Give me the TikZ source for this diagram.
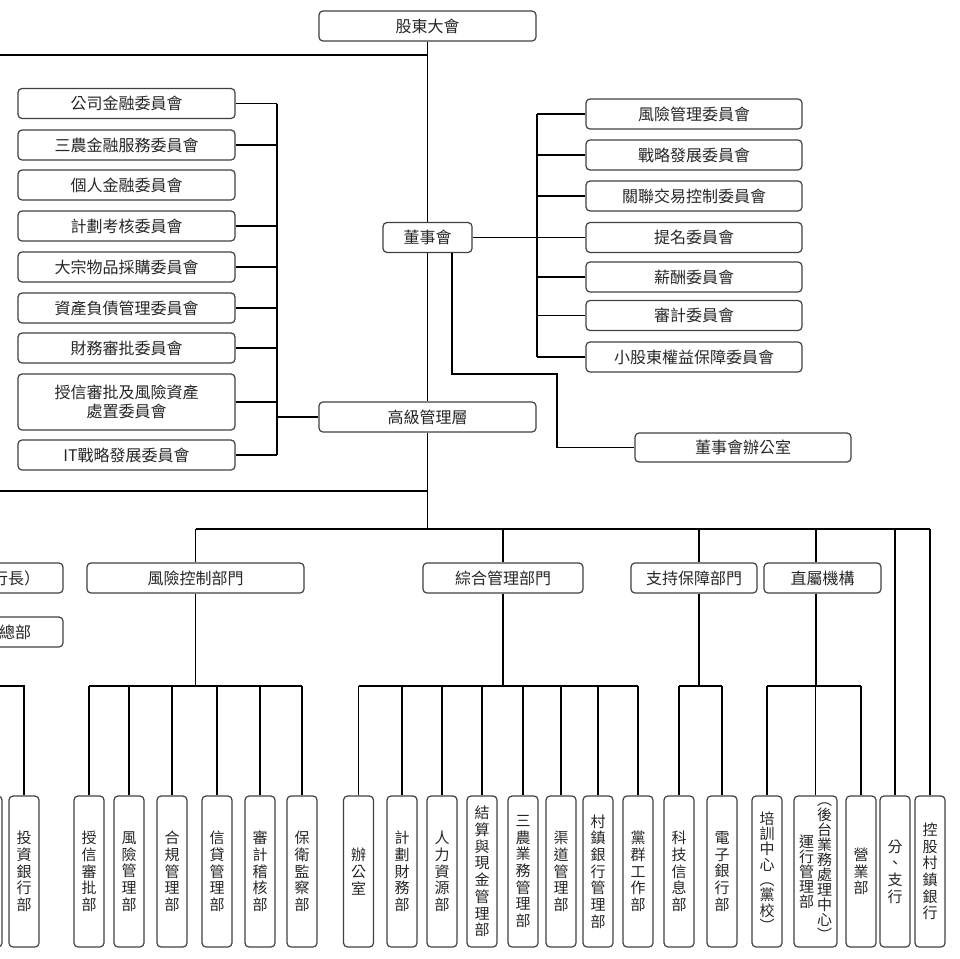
\documentclass[tikz,border=0pt]{standalone}
\usepackage{fontspec}
\setmainfont{Noto Sans CJK TC}
\usetikzlibrary{positioning}

\begin{document}
\begin{tikzpicture}[x=1pt, y=-1pt,
    box/.style={draw=black!75, line width=1.2pt, rounded corners=4pt, minimum height=30pt, inner sep=0pt, align=center, text=black!85, font=\fontsize{16}{19}\selectfont},
    vbox/.style={draw=black!75, line width=1.2pt, rounded corners=4pt, minimum width=30pt, minimum height=151pt, inner sep=0pt, align=center, text=black!85, font=\fontsize{15}{16.7}\selectfont},
    link/.style={line width=1.2pt}]
    \useasboundingbox (0,0) rectangle (960,958);
    \clip (0,0) rectangle (960,958);

    % top
    \node (sh) [box, minimum width=217pt] at (427.5,26) {股東大會};
    \node (bd) [box, minimum width=89pt] at (427.5,237.5) {董事會};
    \node (sm) [box, minimum width=217pt] at (427.5,417) {高級管理層};
    \node (bdo) [box, minimum width=216pt, minimum height=29pt] at (743,447.5) {董事會辦公室};

    % committees under senior management
    \foreach \y/\t [count=\i] in {103.5/公司金融委員會, 145/三農金融服務委員會, 185/個人金融委員會, 226/計劃考核委員會, 267/大宗物品採購委員會, 308/資產負債管理委員會, 348/財務審批委員會}
        \node (lc\i) [box, minimum width=217pt] at (126.5,\y) {\t};
    \node (lc8) [box, minimum width=217pt, minimum height=56pt] at (126.5,402) {授信審批及風險資產\\處置委員會};
    \node (lc9) [box, minimum width=217pt] at (126.5,455) {IT戰略發展委員會};

    % board committees
    \foreach \y/\t [count=\i] in {114/風險管理委員會, 155/戰略發展委員會, 196/關聯交易控制委員會, 237.5/提名委員會, 277/薪酬委員會, 315.5/審計委員會, 357/小股東權益保障委員會}
        \node (rc\i) [box, minimum width=216pt] at (694,\y) {\t};

    % departments
    \node (hz) [box, minimum width=94pt] at (16,578) {行長）};
    \node (zb) [box, minimum width=96pt] at (15,632) {總部};
    \node (rk) [box, minimum width=217pt] at (195.5,578) {風險控制部門};
    \node (zh) [box, minimum width=160pt] at (503,578) {綜合管理部門};
    \node (zc) [box, minimum width=126pt] at (694,578) {支持保障部門};
    \node (zs) [box, minimum width=117pt] at (822.5,578) {直屬機構};

    % bottom row
    \node (xb) [vbox] at (-13,871.5) {};
    \node (ib) [vbox] at (24,871.5) {投\\資\\銀\\行\\部};
    \foreach \x/\t [count=\i] in {89/授\\信\\審\\批\\部, 129/風\\險\\管\\理\\部, 172/合\\規\\管\\理\\部, 217/信\\貸\\管\\理\\部, 260/審\\計\\稽\\核\\部, 302/保\\衛\\監\\察\\部}
        \node (rb\i) [vbox] at (\x,871.5) {\t};
    \foreach \x/\t [count=\i] in {358.5/辦\\公\\室, 402/計\\劃\\財\\務\\部, 442/人\\力\\資\\源\\部, 482/結\\算\\與\\現\\金\\管\\理\\部, 523/三\\農\\業\\務\\管\\理\\部, 561/渠\\道\\管\\理\\部, 598/村\\鎮\\銀\\行\\管\\理\\部, 638/黨\\群\\工\\作\\部}
        \node (gb\i) [vbox] at (\x,871.5) {\t};
    \node (sb1) [vbox] at (679,871.5) {科\\技\\信\\息\\部};
    \node (sb2) [vbox] at (722,871.5) {電\\子\\銀\\行\\部};
    \node (db1) [vbox, font=\fontsize{15}{15.3}\selectfont] at (767,871.5) {培\\訓\\中\\心\\︵\\黨\\校\\︶};
    \node (db2) [vbox, minimum width=43pt, font=\fontsize{15}{15}\selectfont] at (815.5,871.5)
        {\parbox[c]{15pt}{\centering 運\\行\\管\\理\\部}\hspace{3pt}\parbox[c]{15pt}{\centering ︵\\後\\台\\業\\務\\處\\理\\中\\心\\︶}};
    \node (db3) [vbox] at (861,871.5) {營\\業\\部};
    \node (fz) [vbox] at (895,871.5) {分\\、\\支\\行};
    \node (kg) [vbox] at (930,871.5) {控\\股\\村\\鎮\\銀\\行};

    % connectors, top part
    \draw[link] (sh.south) -- (bd.north);
    \coordinate (t1) at (-5,55);
    \draw[link] (t1) -- (t1 -| sh.south);
    \draw[link] (bd.south) -- (sm.north);
    \coordinate (bdturn) at (557,374);
    \draw[link] ([xshift=24.5pt]bd.south) |- (bdturn) |- (bdo.west);

    \coordinate (lbus) at (277,0);
    \foreach \i in {1,2,4,5,6,7,8,9}
        \draw[link] (lc\i.east) -- (lc\i.east -| lbus);
    \draw[link] (lc1.east -| lbus) -- (lc9.east -| lbus);
    \draw[link] (sm.west) -- (sm.west -| lbus);

    \coordinate (rbus) at (537,0);
    \foreach \i in {1,...,7}
        \draw[link] (rc\i.west) -- (rc\i.west -| rbus);
    \draw[link] (rc1.west -| rbus) -- (rc7.west -| rbus);
    \draw[link] (bd.east) -- (rc4.west);

    % connectors, lower part
    \coordinate (mbus) at (0,529);
    \coordinate (t2) at (-5,491);
    \draw[link] (t2) -- (t2 -| sm.south);
    \draw[link] (sm.south) -- (sm.south |- mbus);
    \draw[link] (rk.north |- mbus) -- (kg.north |- mbus);
    \foreach \n in {rk,zh,fz,kg}
        \draw[link] (\n.north) -- (\n.north |- mbus);
    \draw[link] ([xshift=5pt]zc.north) -- ([xshift=5pt]zc.north |- mbus);
    \draw[link] ([xshift=-6.5pt]zs.north) -- ([xshift=-6.5pt]zs.north |- mbus);

    \coordinate (gbus) at (0,686);
    \coordinate (t3) at (-5,686);
    \draw[link] (t3) -| (ib.north);
    \draw[link] (rk.south) -- (rk.south |- gbus);
    \draw[link] (rb1.north |- gbus) -- (rb6.north |- gbus);
    \foreach \i in {1,...,6}
        \draw[link] (rb\i.north) -- (rb\i.north |- gbus);
    \draw[link] (zh.south) -- (zh.south |- gbus);
    \draw[link] (gb1.north |- gbus) -- (gb8.north |- gbus);
    \foreach \i in {1,...,8}
        \draw[link] (gb\i.north) -- (gb\i.north |- gbus);
    \draw[link] ([xshift=5pt]zc.south) -- ([xshift=5pt]zc.south |- gbus);
    \draw[link] (sb1.north |- gbus) -- (sb2.north |- gbus);
    \foreach \i in {1,2}
        \draw[link] (sb\i.north) -- (sb\i.north |- gbus);
    \draw[link] ([xshift=-6.5pt]zs.south) -- ([xshift=-6.5pt]zs.south |- gbus);
    \draw[link] (db1.north |- gbus) -- (db3.north |- gbus);
    \foreach \i in {1,2,3}
        \draw[link] (db\i.north) -- (db\i.north |- gbus);
\end{tikzpicture}
\end{document}
